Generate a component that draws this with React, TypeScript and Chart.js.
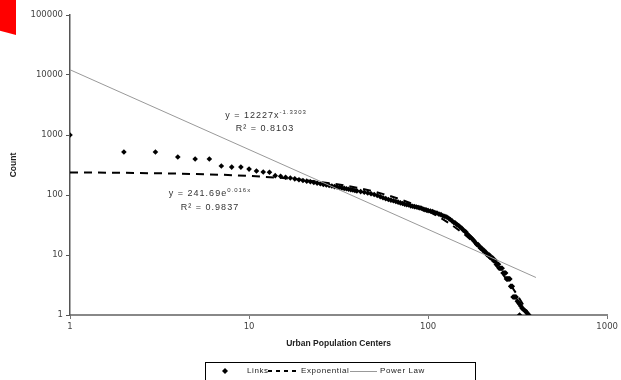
import React, { useEffect, useRef } from 'react';
import { Chart, registerables } from 'chart.js';
Chart.register(...registerables);

// Links: rank (x) and count (y)
const linkRanks = [
  1, 2, 3, 4, 5, 6, 7, 8, 9, 10, 11, 12, 13, 14, 15, 16, 17, 18, 19, 20,
  21, 22, 23, 24, 25, 26, 27, 28, 29, 30, 31, 32, 33, 34, 35, 36, 37, 38, 39, 40,
  42, 44, 46, 48, 50, 52, 54, 56, 58, 60, 62, 64, 66, 68, 70, 72, 74, 76, 78, 80,
  82, 84, 86, 88, 90, 92, 94, 96, 98, 100,
  103, 106, 109, 112, 115, 118, 121, 124, 127, 130, 133, 136, 139, 142, 145, 148,
  151, 154, 157, 160, 163, 166, 169, 172, 175, 178, 181, 184, 187, 190, 193, 196,
  199, 202, 205, 208, 211, 214, 217, 220, 223, 226, 229, 232, 235, 238, 241, 244,
  247, 250, 253, 256, 259, 262, 265, 268, 271, 274, 277, 280, 283, 286, 289, 292,
  295, 298, 301, 304, 307, 310, 315, 320, 324, 325, 330, 335, 340, 345, 350, 355,
  360, 365,
];
const linkCounts = [
  1000, 520, 520, 430, 398, 398, 304, 292, 292, 270, 251, 242, 240, 210, 205, 198, 192, 186, 180, 174,
  170, 166, 162, 158, 154, 150, 147, 144, 141, 138, 136, 134, 131, 129, 127, 125, 123, 121, 119, 117,
  114, 111, 108, 105, 102, 98, 94, 90, 87, 84, 82, 80, 78, 76, 74, 72, 70, 69, 68, 66,
  65, 64, 63, 62, 61, 60, 58, 57, 56, 55,
  54, 53, 51, 50, 48, 47, 45, 44, 43, 41, 39, 37, 35, 34, 32, 31,
  29, 28, 26, 25, 24, 22, 21, 20, 19, 18, 17, 16, 15, 15, 14, 13,
  13, 12, 12, 11, 11, 10, 10, 10, 9, 9, 9, 8, 8, 8, 7, 7,
  7, 6, 6, 6, 6, 5, 5, 5, 5, 4, 4, 4, 4, 4, 3, 3,
  3, 2, 2, 2, 2, 2, 1.7, 1.6, 1, 1.5, 1.4, 1.3, 1.25, 1.2, 1.15, 1.1,
  1.05, 1,
];

const expX = [1, 2, 4, 7, 10, 15, 20, 30, 40, 50, 60, 70, 80, 100, 120, 140, 160, 180, 200, 230, 260, 290, 320, 350, 366];
const expY = [238.1, 234.5, 227.6, 217.6, 208.0, 193.0, 179.0, 154.1, 132.6, 114.2, 98.3, 84.6, 72.8, 53.9, 40.0, 29.6, 21.9, 16.2, 12.0, 7.67, 4.89, 3.12, 1.99, 1.27, 1.0];

// Power-law trendline (y = 12227x^-1.3303), end points
const powX = [1, 400];
const powY = [12227, 4.22];

const xTicks = [1, 10, 100, 1000];
const yTicks = [1, 10, 100, 1000, 10000, 100000];

const xTitle = 'Urban Population Centers';
const yTitle = 'Count';
const powEq = 'y = 12227x';
const powSup = '-1.3303';
const powR2 = 'R² = 0.8103';
const expEq = 'y = 241.69e';
const expSup = '0.016x';
const expR2 = 'R² = 0.9837';
const legendLabels = ['Links', 'Exponential', 'Power Law'];

const FONT = '"Liberation Sans", Arial, sans-serif';

function drawSupLine(ctx: CanvasRenderingContext2D, main: string, sup: string, cx: number, y: number) {
  ctx.font = `9px ${FONT}`;
  const w1 = ctx.measureText(main).width;
  ctx.font = `6px ${FONT}`;
  const w2 = ctx.measureText(sup).width;
  const x0 = cx - (w1 + w2) / 2;
  ctx.font = `9px ${FONT}`;
  ctx.fillText(main, x0, y);
  ctx.font = `6px ${FONT}`;
  ctx.fillText(sup, x0 + w1, y - 4);
}

function drawCentered(ctx: CanvasRenderingContext2D, text: string, cx: number, y: number) {
  ctx.font = `9px ${FONT}`;
  const w = ctx.measureText(text).width;
  ctx.fillText(text, cx - w / 2, y);
}

const overlayPlugin = {
  id: 'overlay',
  afterDraw(chart: any) {
    const ctx: CanvasRenderingContext2D = chart.ctx;
    ctx.save();
    (ctx as any).letterSpacing = '1px';
    ctx.fillStyle = '#333';
    ctx.textBaseline = 'middle';
    ctx.textAlign = 'left';
    drawSupLine(ctx, powEq, powSup, 266, 116);
    drawCentered(ctx, powR2, 265, 129);
    drawSupLine(ctx, expEq, expSup, 210, 194);
    drawCentered(ctx, expR2, 210, 208);

    // legend
    (ctx as any).letterSpacing = '0.6px';
    ctx.strokeStyle = '#000';
    ctx.lineWidth = 1;
    ctx.strokeRect(205.5, 362.5, 270, 24);
    const ly = 371;
    ctx.fillStyle = '#000';
    ctx.beginPath();
    ctx.moveTo(225, ly - 3);
    ctx.lineTo(228, ly);
    ctx.lineTo(225, ly + 3);
    ctx.lineTo(222, ly);
    ctx.closePath();
    ctx.fill();
    ctx.font = `8px ${FONT}`;
    ctx.fillStyle = '#222';
    ctx.fillText(legendLabels[0], 247, ly);
    ctx.save();
    ctx.strokeStyle = '#000';
    ctx.lineWidth = 2;
    ctx.setLineDash([4, 4]);
    ctx.beginPath();
    ctx.moveTo(268, ly);
    ctx.lineTo(300, ly);
    ctx.stroke();
    ctx.restore();
    ctx.fillText(legendLabels[1], 301, ly);
    ctx.strokeStyle = '#999';
    ctx.lineWidth = 1;
    ctx.beginPath();
    ctx.moveTo(350, ly + 0.5);
    ctx.lineTo(377, ly + 0.5);
    ctx.stroke();
    ctx.fillText(legendLabels[2], 380, ly);
    ctx.restore();
  },
};

export default function App() {
  const ref = useRef<HTMLCanvasElement>(null);
  useEffect(() => {
    if (!ref.current) return;
    const links = linkRanks.map((x, i) => ({ x, y: linkCounts[i] }));
    const expo = expX.map((x, i) => ({ x, y: expY[i] }));
    const pow = powX.map((x, i) => ({ x, y: powY[i] }));
    const tickFont = { family: '"DejaVu Sans", sans-serif', size: 8.5 };
    const chart = new Chart(ref.current, {
      type: 'scatter',
      data: {
        datasets: [
          {
            label: legendLabels[0],
            data: links,
            pointStyle: 'rectRot',
            pointRadius: 2.8,
            pointBackgroundColor: '#000',
            pointBorderWidth: 0,
            showLine: false,
            order: 3,
          } as any,
          {
            label: legendLabels[1],
            data: expo,
            showLine: true,
            borderColor: '#000',
            borderWidth: 2,
            borderDash: [8, 6],
            pointRadius: 0,
            order: 2,
          },
          {
            label: legendLabels[2],
            data: pow,
            showLine: true,
            borderColor: '#999',
            borderWidth: 1,
            pointRadius: 0,
            order: 1,
          },
        ],
      },
      options: {
        animation: false,
        responsive: false,
        devicePixelRatio: 1,
        layout: { padding: { left: 0, right: 11, top: 15, bottom: 28 } },
        plugins: { legend: { display: false }, tooltip: { enabled: false } },
        scales: {
          x: {
            type: 'logarithmic',
            min: 1,
            max: 1000,
            afterBuildTicks: (s: any) => {
              s.ticks = xTicks.map((v) => ({ value: v }));
            },
            afterFit: (s: any) => {
              s.height = 37;
            },
            ticks: {
              callback: (v: any) => String(v),
              font: tickFont,
              color: '#444',
              padding: 3,
              maxRotation: 0,
              autoSkip: false,
            },
            grid: { drawOnChartArea: false, tickLength: 4, color: '#777' },
            border: { color: '#888', width: 2 },
            title: {
              display: true,
              text: xTitle,
              font: { family: FONT, size: 8.5, weight: 'bold' },
              color: '#222',
              padding: { top: 4, bottom: 3 },
            },
          },
          y: {
            type: 'logarithmic',
            min: 1,
            max: 100000,
            afterBuildTicks: (s: any) => {
              s.ticks = yTicks.map((v) => ({ value: v }));
            },
            afterFit: (s: any) => {
              s.width = 70;
            },
            ticks: {
              callback: (v: any) => String(v),
              font: tickFont,
              color: '#444',
              padding: 3,
              autoSkip: false,
            },
            grid: { drawOnChartArea: false, tickLength: 4, color: '#555' },
            border: { color: '#555', width: 1.5 },
            title: {
              display: true,
              text: yTitle,
              font: { family: FONT, size: 8.5, weight: 'bold' },
              color: '#222',
              padding: { top: 9, bottom: 0 },
            },
          },
        },
      } as any,
      plugins: [overlayPlugin],
    });
    return () => chart.destroy();
  }, []);

  return (
    <div style={{ position: 'fixed', left: 0, top: 0, width: 621, height: 380, background: '#fff' }}>
      <canvas ref={ref} width={621} height={380} style={{ display: 'block' }} />
      <div
        style={{
          position: 'absolute',
          left: 0,
          top: 0,
          width: 16,
          height: 35,
          background: '#f00',
          clipPath: 'polygon(0 0, 100% 0, 100% 100%, 0 88%)',
        }}
      />
    </div>
  );
}
